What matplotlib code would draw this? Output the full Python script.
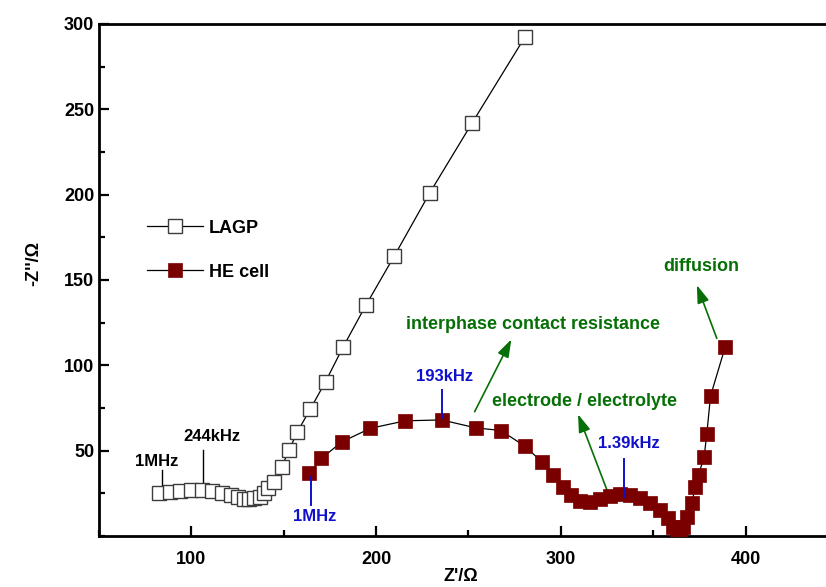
import matplotlib
matplotlib.use('Agg')
import matplotlib.pyplot as plt
from matplotlib.ticker import MultipleLocator

plt.rcParams['font.family'] = ['Liberation Sans', 'DejaVu Sans']
plt.rcParams['font.weight'] = 'bold'

# LAGP (open squares)
lagp_x = [82.7, 88.7, 94.1, 99.6, 105.5, 111.3, 116.7, 121.3, 125.4, 128.5,
          131.2, 133.9, 137.2, 139.3, 141.7, 144.8, 148.9, 152.9, 157.4, 164.3,
          172.6, 182.2, 194.5, 209.9, 228.9, 252.0, 280.4]
lagp_y = [25.0, 26.0, 26.4, 26.9, 26.9, 26.4, 25.4, 24.0, 22.7, 21.7,
          21.5, 22.1, 22.7, 25.0, 27.9, 31.8, 40.6, 50.4, 61.1, 74.2,
          90.4, 110.9, 135.3, 164.2, 200.8, 242.1, 292.1]

# HE cell (filled squares)
he_x = [163.8, 170.4, 181.5, 196.9, 215.8, 235.5, 253.8, 267.5, 280.4, 290.0,
        295.8, 301.2, 305.7, 310.3, 315.7, 321.1, 326.5, 332.0, 337.4, 342.8,
        348.2, 353.7, 358.2, 360.9, 362.7, 364.5, 366.0, 368.1, 370.9, 372.7,
        374.5, 377.5, 379.0, 381.0, 389.0]
he_y = [36.7, 45.5, 55.2, 63.1, 67.5, 68.0, 63.4, 61.8, 52.7, 43.2,
        35.5, 29.0, 23.8, 20.8, 20.1, 21.5, 23.5, 24.5, 24.0, 22.1,
        19.2, 15.2, 10.4, 5.4, 1.6, 1.5, 5.4, 11.3, 19.2, 28.9,
        36.0, 46.0, 60.0, 82.0, 111.0]

HE_RED = '#7a0000'
BLUE = '#1010cc'
GREEN = '#067006'

fig = plt.figure(figsize=(8.26, 5.87), dpi=100)
ax = fig.add_axes([99 / 826, 51 / 587, 739 / 826, 512 / 587])

ax.plot(lagp_x, lagp_y, color='black', lw=0.9, marker='s', ms=9.5,
        mfc='white', mec='#3c3c3c', mew=1.0, label='LAGP', zorder=3)
ax.plot(he_x, he_y, color='black', lw=0.9, marker='s', ms=10.3,
        mfc=HE_RED, mec=HE_RED, mew=0.5, label='HE cell', zorder=4)

ax.set_xlim(50, 450)
ax.set_ylim(0, 300)
ax.set_xticks([100, 200, 300, 400])
ax.xaxis.set_minor_locator(MultipleLocator(50))
ax.set_yticks([50, 100, 150, 200, 250, 300])
ax.yaxis.set_minor_locator(MultipleLocator(25))
ax.tick_params(which='both', direction='in', width=1.6, top=False, right=False,
               labelsize=13)
ax.tick_params(which='major', length=7)
ax.tick_params(which='minor', length=4)
ax.tick_params(axis='x', which='major', pad=10.5)
for s in ax.spines.values():
    s.set_linewidth(2.0)

ax.set_xlabel("Z'/Ω", fontsize=13, fontweight='bold')
ax.xaxis.set_label_coords(0.49, -0.062)
ax.set_ylabel("-Z''/Ω", fontsize=13, fontweight='bold')
ax.yaxis.set_label_coords(-0.077, 0.533)

# frequency labels
ax.text(81.0, 43.9, '1MHz', fontsize=12, ha='center', va='center')
ax.plot([84.2, 84.2], [38.5, 25.5], color='black', lw=1.0)
ax.text(110.9, 58.3, '244kHz', fontsize=12, ha='center', va='center')
ax.plot([106.2, 106.2], [50.4, 27.0], color='black', lw=1.0)

ax.text(166.5, 11.4, '1MHz', fontsize=12, color=BLUE, ha='center', va='center')
ax.plot([164.7, 164.7], [34.7, 18.2], color=BLUE, lw=1.4, zorder=5)
ax.text(237.0, 93.4, '193kHz', fontsize=12, color=BLUE, ha='center', va='center')
ax.plot([235.8, 235.8], [85.5, 69.1], color=BLUE, lw=1.4, zorder=5)
ax.text(336.8, 54.2, '1.39kHz', fontsize=12, color=BLUE, ha='center', va='center')
ax.plot([334.3, 334.3], [45.1, 22.8], color=BLUE, lw=1.4, zorder=5)

# process labels with arrows
ax.text(284.8, 124.2, 'interphase contact resistance', fontsize=13,
        color=GREEN, ha='center', va='center')
ax.text(313.0, 79.1, 'electrode / electrolyte', fontsize=13,
        color=GREEN, ha='center', va='center')
ax.text(375.9, 157.9, 'diffusion', fontsize=13, color=GREEN,
        ha='center', va='center')
arrow = dict(arrowstyle='-|>,head_length=0.9,head_width=0.3', color=GREEN,
             lw=1.2, mutation_scale=12, shrinkA=0, shrinkB=0)
ax.annotate('', xy=(273.2, 115.2), xytext=(253.3, 72.8), arrowprops=arrow)
ax.annotate('', xy=(309.3, 71.3), xytext=(325.1, 26.5), arrowprops=arrow)
ax.annotate('', xy=(373.6, 147.0), xytext=(384.4, 115.8), arrowprops=arrow)

ax.legend(loc='upper left', bbox_to_anchor=(0.055, 0.632), frameon=False,
          fontsize=13, handlelength=3.1, handletextpad=0.35, labelspacing=1.5,
          borderaxespad=0)

fig.savefig('out.png', dpi=100)
